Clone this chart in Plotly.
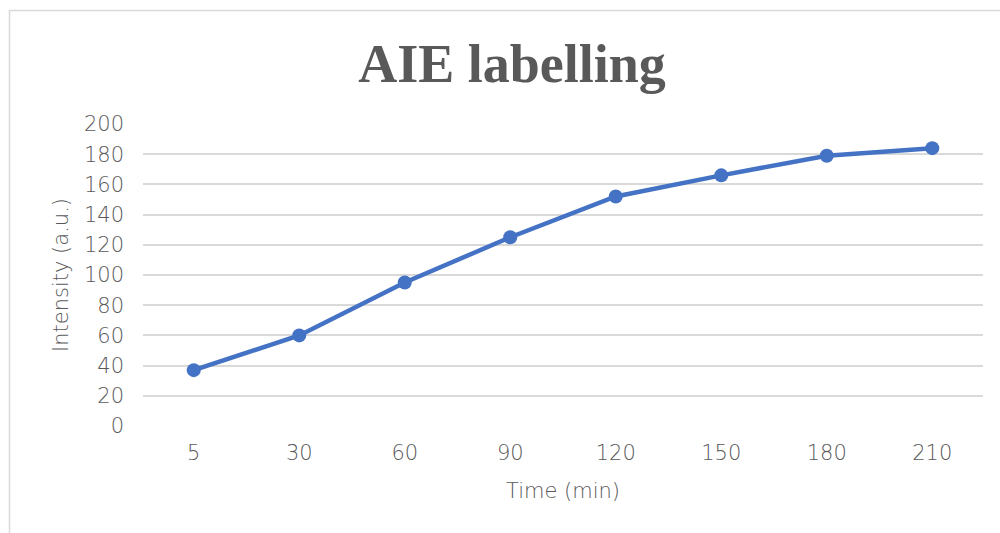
import plotly.graph_objects as go

# Labelling time course
time_labels = ["5", "30", "60", "90", "120", "150", "180", "210"]
intensity = [37, 60, 95, 125, 152, 166, 179, 184]

y_ticks = list(range(0, 201, 20))

GREY_TEXT = "#595959"
GRID = "#d9d9d9"
BLUE = "#4472C4"
TICK_FONT = dict(family="DejaVu Sans", size=21, color=GREY_TEXT, weight=300)

fig = go.Figure()
fig.add_trace(go.Scatter(
    x=time_labels,
    y=intensity,
    mode="lines+markers",
    line=dict(color=BLUE, width=4.5),
    marker=dict(color=BLUE, size=14),
    showlegend=False,
))

# Chart-area frame (runs off the right/bottom edges)
L, R, T, B = 143, 983, 124, 426
def px_x(p):
    return (p - L) / (R - L)
def px_y(p):
    return (B - p) / (B - T)

fig.add_shape(type="rect", xref="paper", yref="paper",
              x0=px_x(9.5), x1=px_x(1010), y0=px_y(545), y1=px_y(10.5),
              line=dict(color=GRID, width=1.5), fillcolor="rgba(0,0,0,0)",
              layer="below")

fig.update_layout(
    width=1000, height=533,
    margin=dict(l=L, r=1000 - R, t=T, b=533 - B),
    paper_bgcolor="white", plot_bgcolor="white",
    title=dict(text="<b>AIE labelling</b>", x=0.512, xanchor="center",
               y=1 - 63 / 533, yanchor="middle", xref="container",
               font=dict(family="Liberation Serif", size=54, color=GREY_TEXT)),
    xaxis=dict(
        type="category", showgrid=False, zeroline=False, showline=False,
        ticks="", tickfont=TICK_FONT, ticklabelstandoff=12,
        title=dict(text="Time (min)", font=TICK_FONT, standoff=19),
    ),
    yaxis=dict(
        range=[0, 200], tickvals=y_ticks, showgrid=True, gridcolor=GRID,
        gridwidth=1.5, zeroline=False, showline=False, ticks="",
        tickfont=TICK_FONT, ticklabelstandoff=18,
        title=dict(text="Intensity (a.u.)", font=TICK_FONT, standoff=9),
    ),
)

fig.write_html("out.html")
